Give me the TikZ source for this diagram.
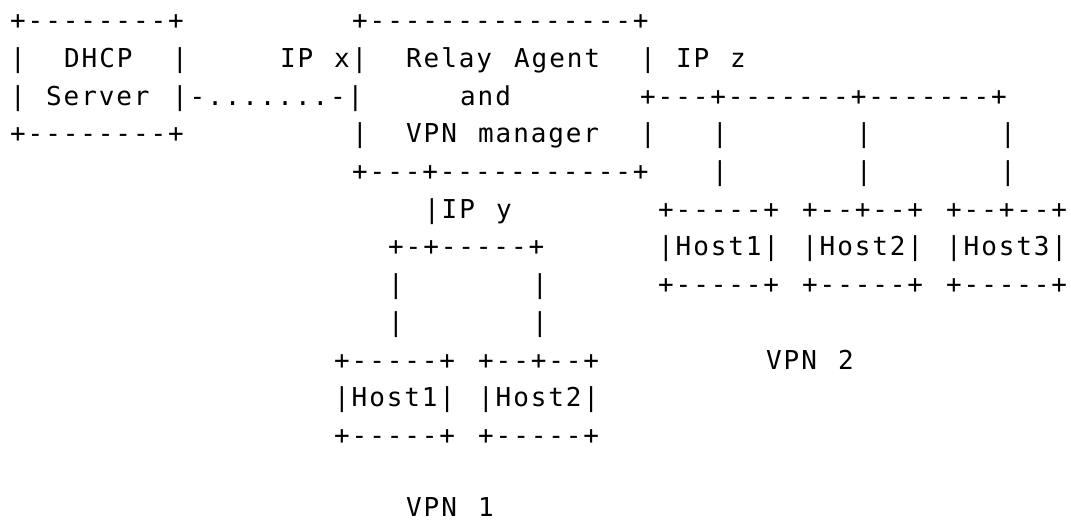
\documentclass[tikz,border=0pt]{standalone}
\usepackage{fontspec}
\setmonofont{DejaVu Sans Mono}[LetterSpace=7.3]
\tikzset{ascii/.style={anchor=base west, inner sep=0pt, outer sep=0pt, text depth=0pt,
  font=\ttfamily\fontsize{26}{30}\selectfont}}
\begin{document}
\begin{tikzpicture}[x=18pt, y=-37.7pt]
  \useasboundingbox (-10.2pt,29.8pt) rectangle (1060.8pt,-491.2pt);
  % column/row/text
  \foreach \c/\r/\t [count=\i] in {
    0/0/+--------+, 19/0/+---------------+,
    0/1/|, 3/1/DHCP, 9/1/|, 15/1/IP, 18/1/x|, 22/1/Relay, 28/1/Agent, 35/1/|, 37/1/IP, 40/1/z,
    0/2/|, 2/2/Server, 25/2/and, 35/2/+---+-------+-------+,
    0/3/+--------+, 19/3/|, 22/3/VPN, 26/3/manager, 35/3/|, 39/3/|, 47/3/|, 55/3/|,
    19/4/+---+-----------+, 39/4/|, 47/4/|, 55/4/|,
    23/5/|IP, 27/5/y, 36/5/+-----+, 44/5/+--+--+, 52/5/+--+--+,
    21/6/+-+-----+, 36/6/|Host1|, 44/6/|Host2|, 52/6/|Host3|,
    21/7/|, 29/7/|, 36/7/+-----+, 44/7/+-----+, 52/7/+-----+,
    21/8/|, 29/8/|,
    18/9/+-----+, 26/9/+--+--+, 42/9/VPN, 46/9/2,
    18/10/|Host1|, 26/10/|Host2|,
    18/11/+-----+, 26/11/+-----+,
    22/12.92/VPN, 26/12.92/1}
    \node[ascii] (s\i) at (\c,\r) {\t};
  \node[ascii] (link) at (9,2) {|-.......-|};
\end{tikzpicture}
\end{document}
